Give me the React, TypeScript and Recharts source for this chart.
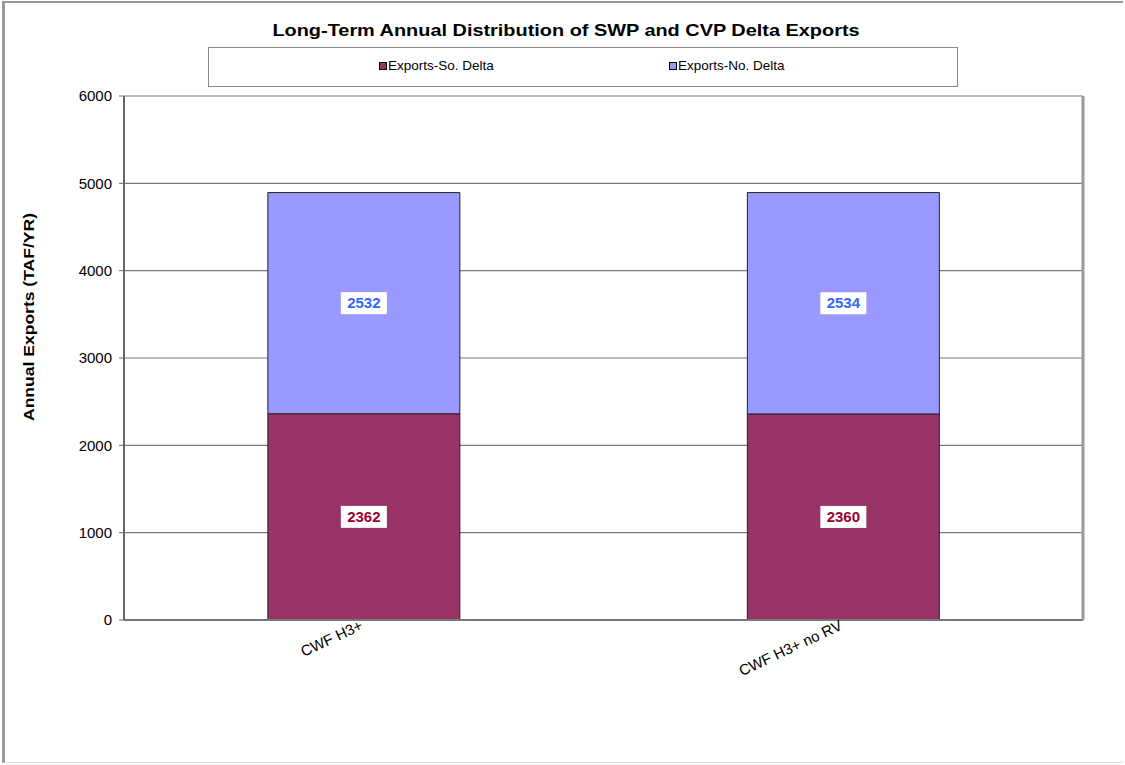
import React from "react"
import {
  BarChart,
  Bar,
  XAxis,
  YAxis,
  CartesianGrid,
  LabelList,
} from "recharts"

const scenarios = ["CWF H3+", "CWF H3+ no RV"]
const soDelta = [2362, 2360]
const noDelta = [2532, 2534]
const yTicks = [0, 1000, 2000, 3000, 4000, 5000, 6000]

const SO_COLOR = "#993366"
const NO_COLOR = "#9999FF"
const FONT = "Arial, 'Liberation Sans', sans-serif"

const data = scenarios.map((name, i) => ({
  name,
  so: soDelta[i],
  no: noDelta[i],
  slot: i + 0.5,
}))

function boxLabel(color: string) {
  return (props: any) => {
    const { x, y, width, height, value } = props
    const cx = x + width / 2
    const cy = y + height / 2
    return (
      <g>
        <rect x={cx - 23} y={cy - 11} width={46} height={22} fill="#fff" />
        <text
          x={cx}
          y={cy + 5}
          textAnchor="middle"
          fontFamily={FONT}
          fontWeight="bold"
          fontSize={15}
          fill={color}
        >
          {value}
        </text>
      </g>
    )
  }
}

function CategoryTick(props: any) {
  const { x, y, payload } = props
  const ty = y + 1
  return (
    <text
      x={x}
      y={ty}
      textAnchor="end"
      fontFamily={FONT}
      fontSize={15}
      fill="#000"
      transform={`rotate(-25 ${x} ${ty})`}
    >
      {payload.value}
    </text>
  )
}

function YLabel(props: any) {
  const { viewBox } = props
  const x = viewBox.x - 30
  const y = viewBox.y + viewBox.height / 2 - 41
  return (
    <text
      x={x}
      y={y}
      textAnchor="middle"
      fontFamily={FONT}
      fontWeight="bold"
      fontSize={15}
      textLength={208}
      lengthAdjust="spacingAndGlyphs"
      fill="#000"
      transform={`rotate(-90 ${x} ${y})`}
    >
      Annual Exports (TAF/YR)
    </text>
  )
}

function LegendBox() {
  const items = [
    { label: "Exports-So. Delta", color: SO_COLOR },
    { label: "Exports-No. Delta", color: NO_COLOR },
  ]
  return (
    <div
      style={{
        position: "absolute",
        left: 208,
        top: 47,
        width: 748,
        height: 38,
        border: "1px solid #888",
        background: "#fff",
        fontFamily: FONT,
        fontSize: 13.5,
      }}
    >
      {items.map((it, i) => (
        <div
          key={it.label}
          style={{
            position: "absolute",
            left: i === 0 ? 170 : 460,
            top: 10,
            display: "flex",
            alignItems: "center",
          }}
        >
          <span
            style={{
              display: "inline-block",
              width: 6,
              height: 6,
              background: it.color,
              border: "1px solid #000",
              marginRight: 1,
            }}
          />
          {it.label}
        </div>
      ))}
    </div>
  )
}

export default function App() {
  return (
    <div
      style={{
        position: "relative",
        width: 1125,
        height: 765,
        background: "#fff",
      }}
    >
      <style>{`body { margin: 0; }`}</style>
      <div
        style={{
          position: "absolute",
          left: 2,
          top: 1,
          width: 1121,
          height: 762,
          borderLeft: "3px solid #999",
          borderTop: "2px solid #999",
          borderBottom: "1px solid #ddd",
          boxSizing: "border-box",
        }}
      />
      <div
        style={{
          position: "absolute",
          top: 21,
          left: 0,
          width: 1132,
          textAlign: "center",
          fontFamily: FONT,
          fontWeight: "bold",
          fontSize: 17,
          transform: "scaleX(1.17)",
        }}
      >
        Long-Term Annual Distribution of SWP and CVP Delta Exports
      </div>
      <LegendBox />
      <BarChart
        width={1125}
        height={765}
        data={data}
        margin={{ top: 96, right: 41, bottom: 85, left: 64 }}
        barCategoryGap="30%"
        style={{ position: "absolute", top: 0, left: 0 }}
      >
        <CartesianGrid vertical={false} stroke="#777" strokeWidth={1.2} />
        <XAxis
          xAxisId="bounds"
          type="number"
          dataKey="slot"
          domain={[0, 2]}
          ticks={[0, 1, 2]}
          height={0}
          axisLine={false}
          tickLine={{ stroke: "#666" }}
          tickSize={5}
          tick={false}
        />
        <XAxis
          dataKey="name"
          height={60}
          axisLine={{ stroke: "#777", strokeWidth: 2 }}
          tickLine={false}
          tick={<CategoryTick />}
        />
        <YAxis
          domain={[0, 6000]}
          ticks={yTicks}
          width={60}
          axisLine={{ stroke: "#666", strokeWidth: 2 }}
          tickLine={{ stroke: "#666" }}
          tickSize={5}
          tickMargin={7}
          tick={{ fontFamily: FONT, fontSize: 15, fill: "#000" }}
          label={<YLabel />}
        />
        <YAxis
          yAxisId="frame"
          orientation="right"
          domain={[0, 6000]}
          width={1}
          tick={false}
          tickLine={false}
          axisLine={{ stroke: "#999", strokeWidth: 3 }}
        />
        <Bar
          dataKey="so"
          name="Exports-So. Delta"
          stackId="a"
          fill={SO_COLOR}
          stroke="#222"
          strokeWidth={1}
          isAnimationActive={false}
        >
          <LabelList dataKey="so" content={boxLabel("#990033")} />
        </Bar>
        <Bar
          dataKey="no"
          name="Exports-No. Delta"
          stackId="a"
          fill={NO_COLOR}
          stroke="#222"
          strokeWidth={1}
          isAnimationActive={false}
        >
          <LabelList dataKey="no" content={boxLabel("#3366FF")} />
        </Bar>
      </BarChart>
    </div>
  )
}
